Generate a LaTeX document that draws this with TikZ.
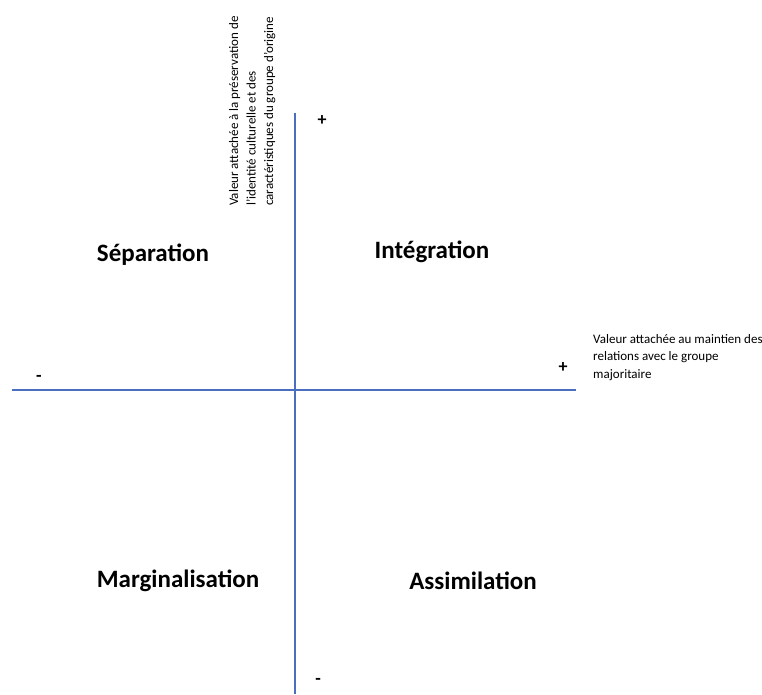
\documentclass[tikz,border=0pt]{standalone}
\usepackage{fontspec}
\setmainfont{Carlito}
\usepackage{xcolor}
\usetikzlibrary{calc}
\definecolor{axisblue}{HTML}{4A6FBE}
\tikzset{
	axe/.style={color=axisblue,line width=2.2pt},
	quadrant/.style={font=\fontsize{25}{30}\selectfont\bfseries},
	signe/.style={font=\fontsize{18}{20}\selectfont\bfseries},
	legende/.style={font=\fontsize{13}{17.5}\selectfont,align=left,inner sep=0pt}
}
\begin{document}
\begin{tikzpicture}[x=1pt,y=-1pt]
		\useasboundingbox (0,0) rectangle (762,694);
		\coordinate (haut) at (295,113);
		\coordinate (bas) at (295,694);
		\coordinate (gauche) at (12,390);
		\coordinate (droite) at (576,390);
		\draw [axe] (haut) -- (bas);
		\draw [axe] (gauche) -- (droite);
		\node [signe] (plushaut) at (322,121) {+};
		\node [signe] (moinsbas) at (318,681) {-};
		\node [signe] (moinsgauche) at (39,378) {-};
		\node [signe] (plusdroite) at (563,368) {+};
		\node [quadrant] (separation) at (153,255) {Séparation};
		\node [quadrant] (integration) at (432,252) {Intégration};
		\node [quadrant] (marginalisation) at (178,581) {Marginalisation};
		\node [quadrant] (assimilation) at (473,581) {Assimilation};
		\node [legende,rotate=90,anchor=north west] (identite) at (229,206) {Valeur attachée à la préservation de\\l'identité culturelle  et des\\caractéristiques du groupe d'origine};
		\node [legende,anchor=north west] (relations) at (593,334) {Valeur attachée au maintien des\\relations avec le groupe\\majoritaire};
	\end{tikzpicture}
\end{document}
